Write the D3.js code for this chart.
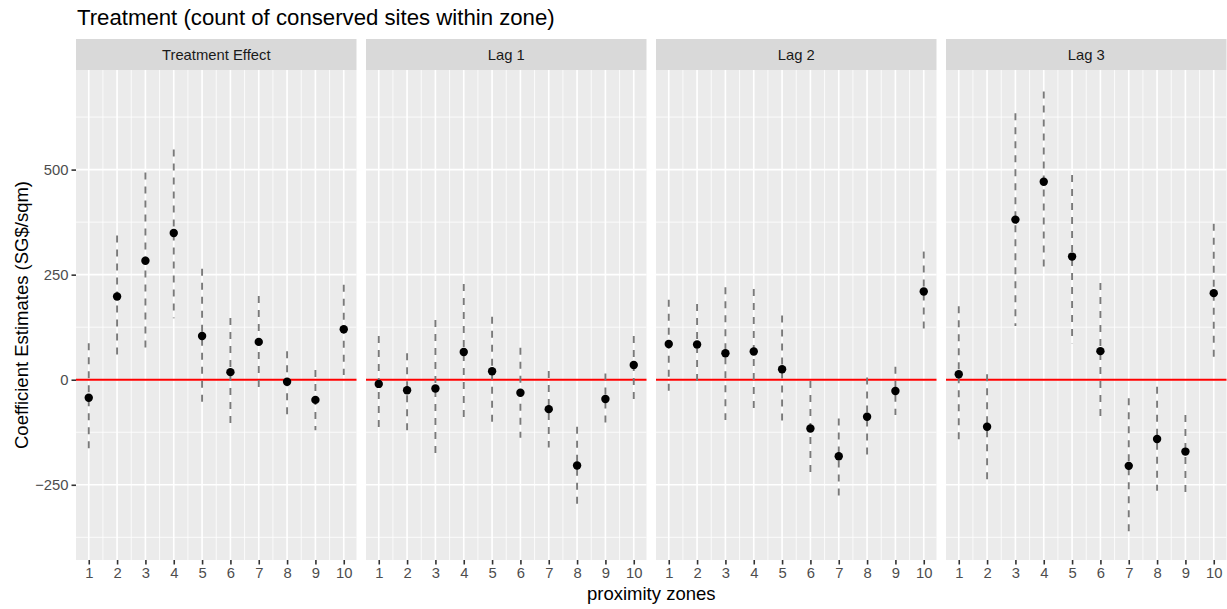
<!DOCTYPE html>
<html>
<head>
<meta charset="utf-8">
<script src="https://cdn.jsdelivr.net/npm/d3@7"></script>
<style>
  body { margin: 0; background: #ffffff; }
  svg { font-family: "Liberation Sans", Arial, Helvetica, sans-serif; }
</style>
</head>
<body>
<svg id="chart" width="1227" height="609"></svg>
<script>

// Proximity zones (x axis)
var zones = [1, 2, 3, 4, 5, 6, 7, 8, 9, 10];

// Facet labels
var panelNames = ["Treatment Effect", "Lag 1", "Lag 2", "Lag 3"];

// y ticks
var yTicks = [-250, 0, 250, 500];

// Treatment effect
var teEst  = [-43, 198, 283, 349, 104, 18, 90, -5, -48, 120];
var teLow  = [-171, 55, 72, 146, -68, -116, -29, -90, -120, 11];
var teHigh = [87, 343, 493, 548, 264, 147, 199, 68, 23, 226];

// Lag 1
var lag1Est  = [-10, -25, -21, 66, 20, -31, -70, -204, -46, 35];
var lag1Low  = [-124, -129, -190, -96, -110, -138, -161, -296, -108, -52];
var lag1High = [104, 63, 142, 228, 150, 76, 21, -112, 15, 104];

// Lag 2
var lag2Est  = [85, 84, 63, 67, 25, -116, -182, -88, -27, 210];
var lag2Low  = [-36, -10, -96, -82, -109, -231, -285, -182, -84, 116];
var lag2High = [190, 180, 220, 216, 153, -3, -92, 5, 31, 305];

// Lag 3
var lag3Est  = [13, -112, 381, 471, 293, 68, -205, -141, -171, 206];
var lag3Low  = [-152, -251, 128, 255, 87, -94, -375, -264, -277, 41];
var lag3High = [175, 13, 634, 686, 487, 230, -44, -17, -84, 371];

var estimates = [teEst, lag1Est, lag2Est, lag3Est];
var lows = [teLow, lag1Low, lag2Low, lag3Low];
var highs = [teHigh, lag1High, lag2High, lag3High];


/*****************************/
// Layout
/*****************************/

var svg = d3.select("#chart");

var panelLeft = 76,
    panelW = 280.5,
    panelGap = 9.5,
    stripTop = 39,
    panelTop = 70,
    panelBottom = 560;

var yScale = d3.scaleLinear().domain([-429, 737]).range([panelBottom, panelTop]);

var yMinor = [-375, -125, 125, 375, 625];

// Title
svg.append("text")
    .attr("x", 77)
    .attr("y", 25)
    .attr("font-size", "22.2px")
    .attr("fill", "#000000")
    .text("Treatment (count of conserved sites within zone)");

// Axis titles
svg.append("text")
    .attr("x", panelLeft + (4 * panelW + 3 * panelGap) / 2)
    .attr("y", 600)
    .attr("text-anchor", "middle")
    .attr("font-size", "18.5px")
    .attr("fill", "#000000")
    .text("proximity zones");

svg.append("text")
    .attr("transform", "translate(28," + ((panelTop + panelBottom) / 2) + ") rotate(-90)")
    .attr("text-anchor", "middle")
    .attr("font-size", "18.5px")
    .attr("fill", "#000000")
    .text("Coefficient Estimates (SG$/sqm)");


/*****************************/
// Panels
/*****************************/

panelNames.forEach(function(name, p) {

    var x0 = panelLeft + p * (panelW + panelGap);

    var xScale = d3.scaleLinear().domain([0.55, 10.45]).range([x0, x0 + panelW]);

    // Strip
    svg.append("rect")
        .attr("x", x0)
        .attr("y", stripTop)
        .attr("width", panelW)
        .attr("height", panelTop - stripTop)
        .attr("fill", "#d9d9d9");

    svg.append("text")
        .attr("x", x0 + panelW / 2)
        .attr("y", 59.5)
        .attr("text-anchor", "middle")
        .attr("font-size", "14.8px")
        .attr("fill", "#1a1a1a")
        .text(name);

    // Panel background
    svg.append("rect")
        .attr("x", x0)
        .attr("y", panelTop)
        .attr("width", panelW)
        .attr("height", panelBottom - panelTop)
        .attr("fill", "#ebebeb");

    var grid = svg.append("g");

    // Minor grid lines
    grid.selectAll(".hminor").data(yMinor).enter().append("line")
        .attr("x1", x0).attr("x2", x0 + panelW)
        .attr("y1", function(d) { return yScale(d); })
        .attr("y2", function(d) { return yScale(d); })
        .attr("stroke", "#ffffff")
        .attr("stroke-width", 0.8);

    grid.selectAll(".vminor").data(zones.slice(0, 9)).enter().append("line")
        .attr("x1", function(d) { return xScale(d + 0.5); })
        .attr("x2", function(d) { return xScale(d + 0.5); })
        .attr("y1", panelTop).attr("y2", panelBottom)
        .attr("stroke", "#ffffff")
        .attr("stroke-width", 0.8);

    // Major grid lines
    grid.selectAll(".hmajor").data(yTicks).enter().append("line")
        .attr("x1", x0).attr("x2", x0 + panelW)
        .attr("y1", function(d) { return yScale(d); })
        .attr("y2", function(d) { return yScale(d); })
        .attr("stroke", "#ffffff")
        .attr("stroke-width", 1.6);

    grid.selectAll(".vmajor").data(zones).enter().append("line")
        .attr("x1", function(d) { return xScale(d); })
        .attr("x2", function(d) { return xScale(d); })
        .attr("y1", panelTop).attr("y2", panelBottom)
        .attr("stroke", "#ffffff")
        .attr("stroke-width", 1.6);

    // Zero line
    svg.append("line")
        .attr("x1", x0).attr("x2", x0 + panelW)
        .attr("y1", yScale(0)).attr("y2", yScale(0))
        .attr("stroke", "#ff0000")
        .attr("stroke-width", 2);

    var est = estimates[p], lo = lows[p], hi = highs[p];

    // Error bars (dashed)
    svg.append("g").selectAll("line").data(zones).enter().append("line")
        .attr("x1", function(d) { return xScale(d); })
        .attr("x2", function(d) { return xScale(d); })
        .attr("y1", function(d, i) { return yScale(hi[i]); })
        .attr("y2", function(d, i) { return yScale(lo[i]); })
        .attr("stroke", "#7a7a7a")
        .attr("stroke-width", 1.9)
        .attr("stroke-dasharray", "7,7");

    // Points
    svg.append("g").selectAll("circle").data(zones).enter().append("circle")
        .attr("cx", function(d) { return xScale(d); })
        .attr("cy", function(d, i) { return yScale(est[i]); })
        .attr("r", 4.2)
        .attr("fill", "#000000");

    // x axis
    var xAxis = svg.append("g")
        .attr("transform", "translate(0," + panelBottom + ")")
        .call(d3.axisBottom(xScale).tickValues(zones).tickSize(4.5).tickPadding(3).tickFormat(d3.format("d")));

    xAxis.select(".domain").remove();
    xAxis.selectAll(".tick line").attr("stroke", "#333333").attr("stroke-width", 1.6);
    xAxis.selectAll(".tick text")
        .attr("font-family", null)
        .attr("font-size", "14.8px")
        .attr("fill", "#4d4d4d");

    // y axis only on first panel
    if (p == 0) {
        var yAxis = svg.append("g")
            .attr("transform", "translate(" + x0 + ",0)")
            .call(d3.axisLeft(yScale).tickValues(yTicks).tickSize(4.5).tickPadding(3).tickFormat(d3.format("d")));

        yAxis.select(".domain").remove();
        yAxis.selectAll(".tick line").attr("stroke", "#333333").attr("stroke-width", 1.6);
        yAxis.selectAll(".tick text")
            .attr("font-family", null)
            .attr("font-size", "14.8px")
            .attr("fill", "#4d4d4d")
            .text(function(d) { return d < 0 ? "\u2212" + Math.abs(d) : d; });
    }
});

</script>
</body>
</html>
